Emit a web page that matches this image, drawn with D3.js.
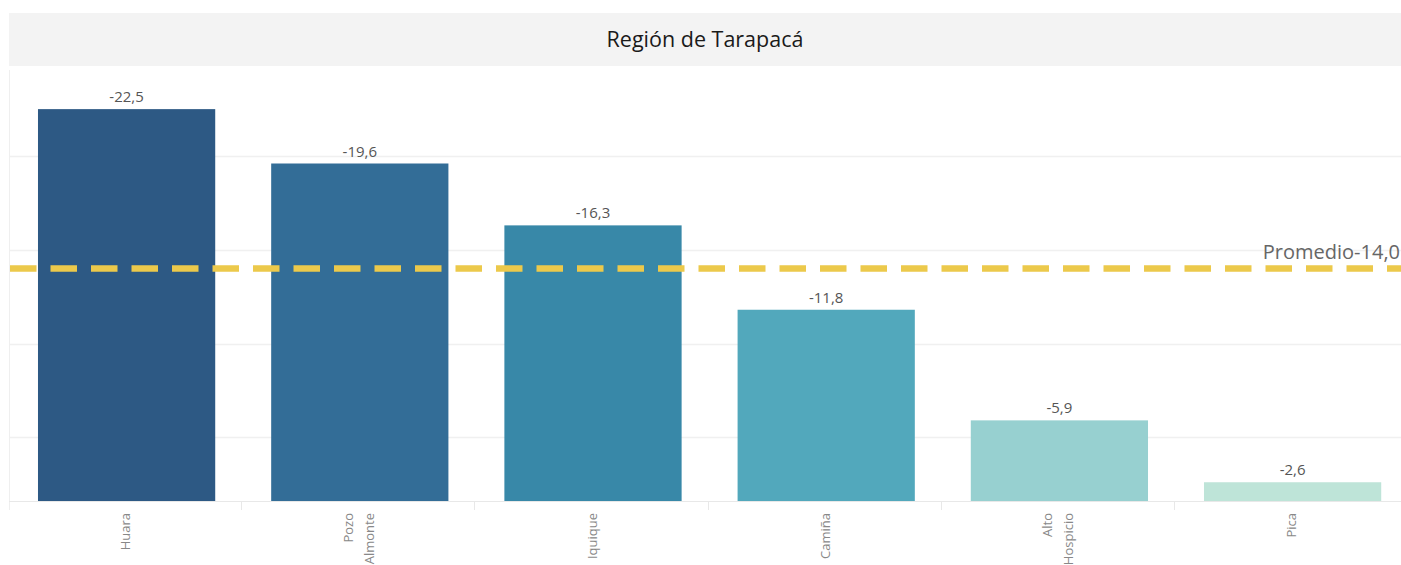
<!DOCTYPE html>
<html>
<head>
  <meta charset="utf-8" />
  <title>Región de Tarapacá</title>
  <style type="text/css">
    html, body { margin: 0; background: #fff; }
    svg { display: block; font-family: "Open Sans", sans-serif; }
  </style>
</head>
<body>
<div id="container"></div>
<script src="https://cdn.jsdelivr.net/npm/d3@7"></script>
<script>
var title = "Región de Tarapacá";
var comunas = ["Huara", "Pozo Almonte", "Iquique", "Camiña", "Alto Hospicio", "Pica"];
var labels = [["Huara"], ["Pozo", "Almonte"], ["Iquique"], ["Camiña"], ["Alto", "Hospicio"], ["Pica"]];
var valores = [-22.5, -19.6, -16.3, -11.8, -5.9, -2.6];
var colores = ["#2d5984", "#336d97", "#3888a8", "#52a8bc", "#97d0d0", "#bee4d8"];
var promedio = -14.0;
var ticks = [-5, -10, -15, -20];

var width = 1401, height = 565;
var plotTop = 66, base = 501, left = 9;

var fmt = function(v) { return d3.format(".1f")(v).replace(".", ",").replace("\u2212", "-"); };

var svg = d3.select("#container").append("svg")
    .attr("width", width)
    .attr("height", height);

// title band
svg.append("rect")
    .attr("x", left).attr("y", 13)
    .attr("width", width - left).attr("height", 53)
    .attr("fill", "#f3f3f3");
svg.append("text")
    .attr("x", (left + width) / 2).attr("y", 47)
    .attr("text-anchor", "middle")
    .attr("font-size", 21.5)
    .attr("fill", "#1a1a1a")
    .text(title);

var x = d3.scaleBand()
    .domain(comunas)
    .range([10, 10 + 233.2 * comunas.length])
    .paddingInner(0.24)
    .paddingOuter(0.12);

var y = d3.scaleLinear()
    .domain([-1.6, -24.8])
    .range([base, plotTop]);

// grid
svg.append("g").selectAll("line")
  .data(ticks)
  .enter().append("line")
    .attr("x1", left + 1).attr("x2", width)
    .attr("y1", function(d) { return Math.round(y(d)) + 0.5; })
    .attr("y2", function(d) { return Math.round(y(d)) + 0.5; })
    .attr("stroke", "#f0f0f0")
    .attr("stroke-width", 1.5);

// left border
svg.append("line")
    .attr("x1", left + 0.5).attr("x2", left + 0.5)
    .attr("y1", 70).attr("y2", base + 9)
    .attr("stroke", "#efefef");

// bars
svg.append("g").selectAll("rect")
  .data(comunas)
  .enter().append("rect")
    .attr("x", function(d) { return x(d); })
    .attr("width", x.bandwidth())
    .attr("y", function(d, i) { return y(valores[i]); })
    .attr("height", function(d, i) { return base - y(valores[i]); })
    .attr("fill", function(d, i) { return colores[i]; });

// value labels
svg.append("g").selectAll("text")
  .data(comunas)
  .enter().append("text")
    .attr("x", function(d) { return x(d) + x.bandwidth() / 2; })
    .attr("y", function(d, i) { return y(valores[i]) - 7; })
    .attr("text-anchor", "middle")
    .attr("font-size", 15)
    .attr("fill", "#555")
    .text(function(d, i) { return fmt(valores[i]); });

// x axis baseline + dividers
svg.append("line")
    .attr("x1", left).attr("x2", width)
    .attr("y1", base + 0.5).attr("y2", base + 0.5)
    .attr("stroke", "#e8e8e8");
svg.append("g").selectAll("line")
  .data(comunas)
  .enter().append("line")
    .attr("x1", function(d, i) { return Math.round(x.range()[0] - 2 + x.step() * (i + 1)) + 0.5; })
    .attr("x2", function(d, i) { return Math.round(x.range()[0] - 2 + x.step() * (i + 1)) + 0.5; })
    .attr("y1", base).attr("y2", base + 9)
    .attr("stroke", "#e8e8e8");

// x labels, rotated
var xl = svg.append("g").selectAll("text")
  .data(comunas)
  .enter().append("text")
    .attr("transform", function(d) {
      return "translate(" + (x(d) + x.bandwidth() / 2 - 1) + "," + (base + 12) + ") rotate(-90)";
    })
    .attr("text-anchor", "end")
    .attr("font-size", 13)
    .attr("fill", "#888");
xl.each(function(d, i) {
  var lines = labels[i];
  var t = d3.select(this);
  lines.forEach(function(l, j) {
    var off = (j - (lines.length - 1) / 2) * 21 + 4.5;
    t.append("tspan").attr("x", 0).attr("y", off).text(l);
  });
});

// average line
svg.append("line")
    .attr("x1", left + 1).attr("x2", width)
    .attr("y1", y(promedio)).attr("y2", y(promedio))
    .attr("stroke", "#ecc94b")
    .attr("stroke-width", 6.5)
    .attr("stroke-dasharray", "26.5,14");
svg.append("text")
    .attr("x", width - 1).attr("y", y(promedio) - 10)
    .attr("text-anchor", "end")
    .attr("font-size", 20)
    .attr("fill", "#666")
    .text("Promedio" + fmt(promedio));
</script>
</body>
</html>
